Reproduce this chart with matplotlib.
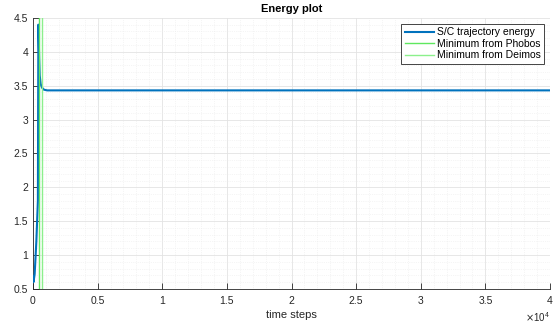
import matplotlib
matplotlib.use("Agg")
import matplotlib.pyplot as plt
import numpy as np
from matplotlib.ticker import MultipleLocator, FuncFormatter

plt.rcParams['font.family'] = ['Liberation Sans', 'DejaVu Sans']

# Data
time_steps = [0, 40, 130, 260, 380, 400, 420, 440, 480, 520, 600, 700, 850, 1100, 40000]
energy = [0.68, 0.60, 0.72, 1.20, 1.80, 3.20, 4.40, 4.25, 3.90, 3.65, 3.52, 3.47, 3.44, 3.43, 3.43]
phobos_min_step = 460
deimos_min_step = 660

x_ticks = [0, 5000, 10000, 15000, 20000, 25000, 30000, 35000, 40000]
y_ticks = [0.5, 1, 1.5, 2, 2.5, 3, 3.5, 4, 4.5]

fig = plt.figure(figsize=(5.59, 3.25), dpi=100)
ax = fig.add_axes([0.059, 0.111, 0.925, 0.834])

ax.plot(time_steps, energy, color='#0072BD', lw=1.5, label='S/C trajectory energy', zorder=3)
ax.axvline(phobos_min_step, color='#5FE85F', lw=1.0, label='Minimum from Phobos', zorder=4)
ax.axvline(deimos_min_step, color='#8CF08C', lw=1.0, label='Minimum from Deimos', zorder=4)

ax.set_xlim(0, 40000)
ax.set_ylim(0.5, 4.5)
ax.set_xticks(x_ticks)
ax.xaxis.set_major_formatter(FuncFormatter(lambda v, p: f"{v/1e4:g}"))
ax.set_yticks(y_ticks)
ax.yaxis.set_major_formatter(FuncFormatter(lambda v, p: f"{v:g}"))
ax.xaxis.set_minor_locator(MultipleLocator(1000))
ax.yaxis.set_minor_locator(MultipleLocator(0.1))

ax.grid(True, which='major', color='#E3E3E3', lw=0.6, ls='-')
ax.grid(True, which='minor', color='#ECECEC', lw=0.5, ls=':')
ax.set_axisbelow(True)

for s in ['top', 'right']:
    ax.spines[s].set_visible(False)
for s in ['left', 'bottom']:
    ax.spines[s].set_color('#262626')
    ax.spines[s].set_linewidth(0.6)

ax.tick_params(which='major', direction='in', length=4, width=0.6, colors='#262626',
               labelsize=7.5, labelcolor='#262626')
ax.tick_params(which='minor', length=0)
ax.tick_params(axis='x', pad=5)

ax.set_title('Energy plot', fontsize=8, fontweight='bold', color='black', pad=4)
ax.set_xlabel('time steps', fontsize=8, color='#262626', labelpad=3)
ax.text(1.0, -0.105, r'$\times\mathregular{10^{4}}$', transform=ax.transAxes,
        ha='right', va='center', fontsize=7, color='#262626')

leg = ax.legend(loc='upper right', fontsize=7.5, frameon=True, fancybox=False,
                edgecolor='#262626', framealpha=1, borderpad=0.3, handlelength=2.8,
                handletextpad=0.3, labelspacing=0.15, borderaxespad=0.6)
leg.get_frame().set_linewidth(0.6)

fig.savefig('out.png', dpi=100)
